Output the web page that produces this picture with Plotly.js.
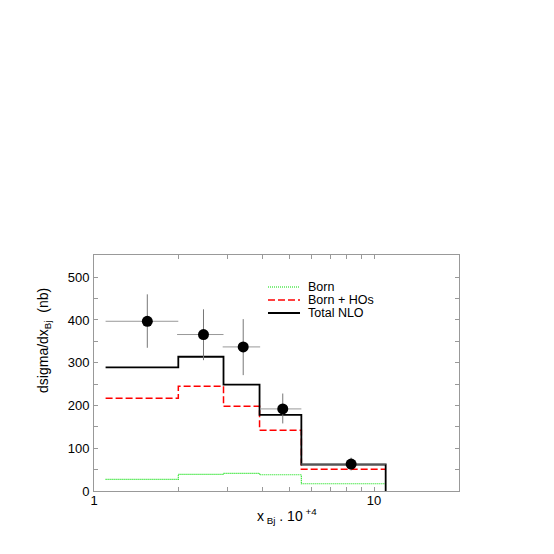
<!DOCTYPE html>
<html><head><meta charset="utf-8">
<script src="https://cdn.plot.ly/plotly-3.0.1.min.js"></script>
<style>html,body{margin:0;padding:0;background:#fff}</style>
</head><body><div id="chart" style="width:554px;height:554px"></div>
<script>
// bin edges (x_Bj * 10^4)
const binEdges = [1.1, 2.0, 2.9, 3.9, 5.5, 11.0];
const bornVals = [27, 39, 41, 38, 17];
const bornHOsVals = [217, 245, 198, 142, 51];
const totalNLOVals = [289, 314, 249, 178, 62];
// data points
const dataX = [1.55, 2.46, 3.41, 4.72, 8.28];
const dataY = [397, 366, 337, 192, 63];
const dataYHi = [460, 425, 402, 228, 78];
const dataYLo = [335, 306, 271, 158, 48];
const dataXLo = [1.1, 1.98, 2.88, 3.92, 5.5];
const dataXHi = [2.0, 2.9, 3.92, 5.5, 11.0];
const seriesNames = ['Born', 'Born + HOs', 'Total NLO'];
const xTickVals = [1, 10];
const yTickVals = [0, 100, 200, 300, 400, 500];

function stepY(vals){ return vals.concat([vals[vals.length-1]]); }

const lineStyles = [
  {shape:'hv', color:'#00dd00', width:1.2, dash:'1px,1px'},
  {shape:'hv', color:'#ff0000', width:1.5, dash:'7px,3px'},
  {shape:'hv', color:'#000000', width:1.8, dash:'solid'}
];

const traces = [
  {x: binEdges, y: stepY(bornVals), mode:'lines', line:lineStyles[0], name:seriesNames[0]},
  {x: binEdges, y: stepY(bornHOsVals), mode:'lines', line:lineStyles[1], name:seriesNames[1]},
  {x: binEdges.concat([binEdges[binEdges.length-1]]), y: stepY(totalNLOVals).concat([0]), mode:'lines', line:lineStyles[2], name:seriesNames[2]},
  {x: dataX, y: dataY, mode:'markers', marker:{color:'#000', size:11}, name:'data',
   error_y:{type:'data', symmetric:false, array: dataYHi.map((v,i)=>v-dataY[i]), arrayminus: dataY.map((v,i)=>v-dataYLo[i]), color:'#777', thickness:1, width:0},
   error_x:{type:'data', symmetric:false, array: dataXHi.map((v,i)=>v-dataX[i]), arrayminus: dataX.map((v,i)=>v-dataXLo[i]), color:'#999', thickness:1, width:0}}
];

// manual legend (to match compact spacing)
const legX0 = 0.4767, legX1 = 0.5644, legTX = 0.5836;
const legY = [0.8644, 0.8093, 0.7542];
const shapes = [], annotations = [];
seriesNames.forEach((n,i)=>{
  shapes.push({type:'line', xref:'paper', yref:'paper', x0:legX0, x1:legX1, y0:legY[i], y1:legY[i],
    line:{color:lineStyles[i].color, width:lineStyles[i].width, dash:lineStyles[i].dash}});
  annotations.push({text:n, xref:'paper', yref:'paper', x:legTX, y:legY[i], xanchor:'left', yanchor:'middle', showarrow:false, borderpad:0, font:{size:12.5}});
});

const axCol = '#999';
annotations.push(
  {text:'dsigma/dx<sub>Bj</sub>  (nb)', xref:'paper', yref:'paper', x:-0.137, y:0.64, textangle:-90, showarrow:false, font:{size:14}, xanchor:'center', yanchor:'middle'},
  {text:'x<sub> Bj</sub> . 10<sup> +4</sup>', xref:'paper', yref:'paper', x:0.53, y:-0.105, showarrow:false, font:{size:14}, xanchor:'center', yanchor:'middle'}
);

const layout = {
  width:554, height:554,
  margin:{l:94, r:95, t:255, b:63},
  paper_bgcolor:'#fff', plot_bgcolor:'#fff',
  font:{family:'Liberation Sans, Arial, sans-serif', color:'#000', size:13},
  showlegend:false,
  xaxis:{type:'log', range:[0, Math.log10(20.1)], showgrid:false, zeroline:false,
    showline:true, linecolor:axCol, linewidth:1, mirror:'ticks',
    ticks:'inside', ticklen:4, tickcolor:axCol, ticklabelstandoff:-3,
    tickvals:xTickVals, ticktext:xTickVals.map(String),
    minor:{ticks:'inside', ticklen:4, tickcolor:axCol, tickvals:[2,3,4,5,6,7,8,9,20], showgrid:false},
    tickfont:{size:13}},
  yaxis:{range:[0,552], showgrid:false, zeroline:false,
    showline:true, linecolor:axCol, linewidth:1, mirror:'ticks',
    ticks:'inside', ticklen:4, tickcolor:axCol, ticklabelstandoff:1,
    tickvals:yTickVals, ticktext:yTickVals.map(String),
    minor:{ticks:'inside', ticklen:4, tickcolor:axCol, tickvals:[50,150,250,350,450,550], showgrid:false},
    tickfont:{size:13}},
  shapes: shapes,
  annotations: annotations
};
Plotly.newPlot('chart', traces, layout, {displayModeBar:false, staticPlot:true});
</script></body></html>
